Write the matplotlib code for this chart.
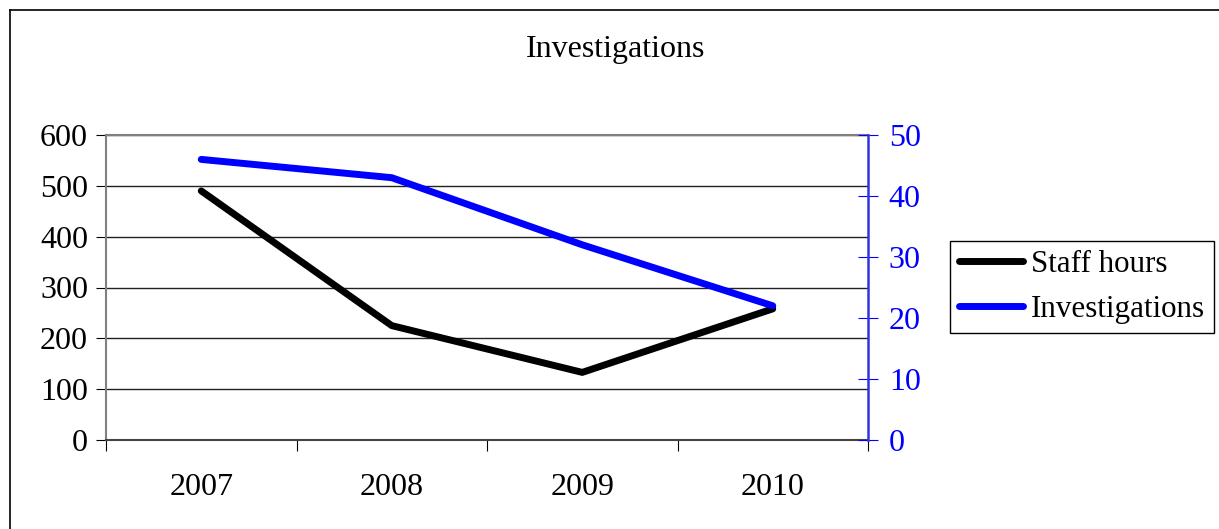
import numpy as np
import matplotlib.pyplot as plt
from matplotlib.lines import Line2D

plt.rcParams['font.family'] = ['Liberation Serif', 'DejaVu Serif']

years = ['2007', '2008', '2009', '2010']
staff_hours = [490, 225, 133, 258]
investigations = [46, 43, 32, 22]

FS = 23
W, H = 1219, 529
fig = plt.figure(figsize=(W / 100, H / 100), dpi=100)

# outer chart border (runs off to the right and bottom)
fig.add_artist(Line2D([10 / W, 10 / W], [0, 1 - 10 / H], color='black', lw=1.2))
fig.add_artist(Line2D([10 / W, 1], [1 - 10 / H, 1 - 10 / H], color='black', lw=1.2))

ax = fig.add_axes([106 / W, 1 - 440 / H, (868 - 106) / W, (440 - 135) / H])
x = np.arange(len(years))

ax.plot(x, staff_hours, color='black', lw=5, solid_capstyle='round', solid_joinstyle='round',
        label='Staff hours', zorder=3)
ax.set_xlim(-0.5, 3.5)
ax.set_ylim(0, 600)
ax.set_yticks(np.arange(0, 601, 100))
ax.grid(axis='y', color='#222222', lw=1)
ax.set_axisbelow(True)
ax.set_xticks(np.arange(-0.5, 3.6, 1))
ax.set_xticklabels([])
ax.set_xticks(x, minor=True)
ax.set_xticklabels(years, minor=True)
ax.tick_params(axis='x', which='major', direction='out', length=8, color='black')
ax.tick_params(axis='x', which='minor', length=0, pad=24, labelsize=FS)
ax.tick_params(axis='y', direction='out', length=7, labelsize=FS, pad=6)
for s in ['top', 'left', 'bottom']:
    ax.spines[s].set_color('#808080')
    ax.spines[s].set_linewidth(1.5)
ax.spines['bottom'].set_color('#444444')
ax.spines['right'].set_visible(False)

ax2 = ax.twinx()
ax2.plot(x, investigations, color='#0000ff', lw=5, solid_capstyle='round', solid_joinstyle='round',
         label='Investigations', zorder=3)
ax2.set_ylim(0, 50)
ax2.set_yticks(np.arange(0, 51, 10))
ax2.tick_params(axis='y', direction='inout', length=14, color='#0000ff', labelcolor='#0000ff',
                labelsize=FS, pad=8)
ax2.spines['right'].set_color('#3333dd')
ax2.spines['right'].set_linewidth(1.8)
for s in ['top', 'left', 'bottom']:
    ax2.spines[s].set_visible(False)

fig.text(616 / W, 1 - 50 / H, 'Investigations', ha='center', va='center', fontsize=FS)

handles = [Line2D([0], [0], color='black', lw=5, solid_capstyle='round'),
           Line2D([0], [0], color='#0000ff', lw=5, solid_capstyle='round')]
fig.legend(handles, ['Staff hours', 'Investigations'], loc='upper left',
           bbox_to_anchor=(950 / W, 1 - 241 / H), fontsize=22.3, frameon=True, fancybox=False,
           edgecolor='black', framealpha=1, borderpad=0.3, handlelength=2.05,
           handletextpad=0.25, labelspacing=0.5, borderaxespad=0)

fig.savefig('out.png', dpi=100)
